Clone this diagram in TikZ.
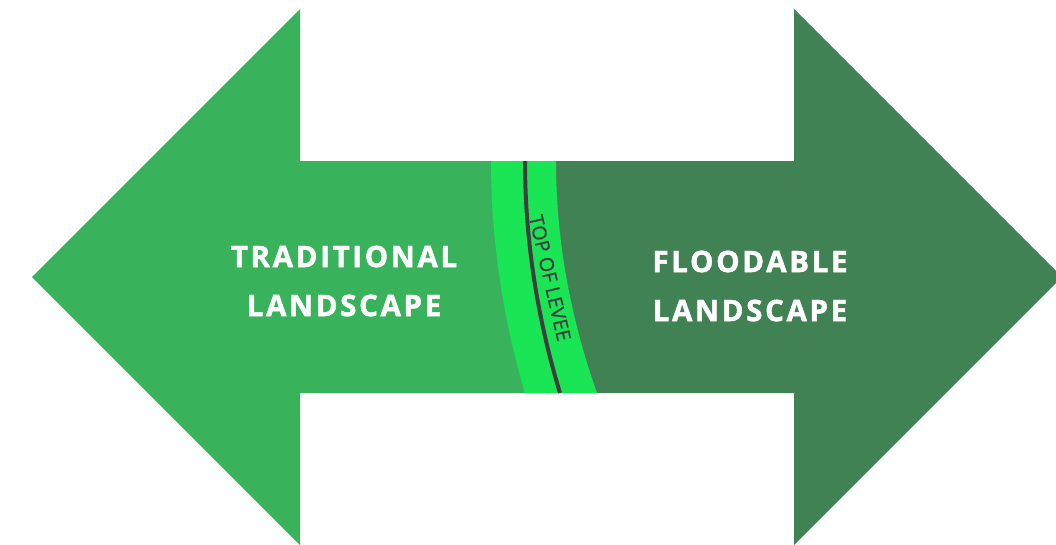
\documentclass[tikz,border=0pt]{standalone}
\usepackage{fontspec}
\usepackage{tikz}

\newfontfamily\sidefont[LetterSpace=9, FakeBold=1.6]{Open Sans}
\newfontfamily\leveefont[LetterSpace=1, FakeBold=0.8]{Open Sans}

\definecolor{oldgreen}{HTML}{39B35B}
\definecolor{floodgreen}{HTML}{418254}
\definecolor{leveegreen}{HTML}{1AE655}
\definecolor{leveeline}{HTML}{3D3F3E}

\tikzset{
  sidetext/.style={text=white, align=center, inner sep=0pt,
    font=\sidefont\bfseries\fontsize{29.5}{49}\selectfont},
}

\begin{document}
\begin{tikzpicture}[x=1pt, y=-1pt]
  \clip (0,0) rectangle (1056,544);
  % the two arrows meet along the crest line
  \fill[oldgreen] (32,277) -- (300,9) -- (300,161) -- (525,161)
    .. controls (525,238) and (536.7,316) .. (560,393)
    -- (300,393) -- (300,545) -- cycle;
  \fill[floodgreen] (1062,277) -- (794,9) -- (794,161) -- (525,161)
    .. controls (525,238) and (536.7,316) .. (560,393)
    -- (794,393) -- (794,545) -- cycle;
  % levee band
  \fill[leveegreen] (491,161) -- (556,161)
    .. controls (556,238) and (569.7,316) .. (597,393)
    -- (525,393) .. controls (502.3,316) and (491,238) .. (491,161) -- cycle;
  \draw[leveeline, line width=4pt] (525,161)
    .. controls (525,238) and (536.7,316) .. (560,393);
  \node[text=leveeline, rotate=-77, inner sep=0pt,
    font=\leveefont\fontsize{19.5}{20}\selectfont] (levee) at (550,278) {TOP OF LEVEE};

  \node[sidetext] (traditional) at (344,281) {TRADITIONAL\\LANDSCAPE};
  \node[sidetext] (floodable) at (750,286) {FLOODABLE\\LANDSCAPE};
\end{tikzpicture}
\end{document}
